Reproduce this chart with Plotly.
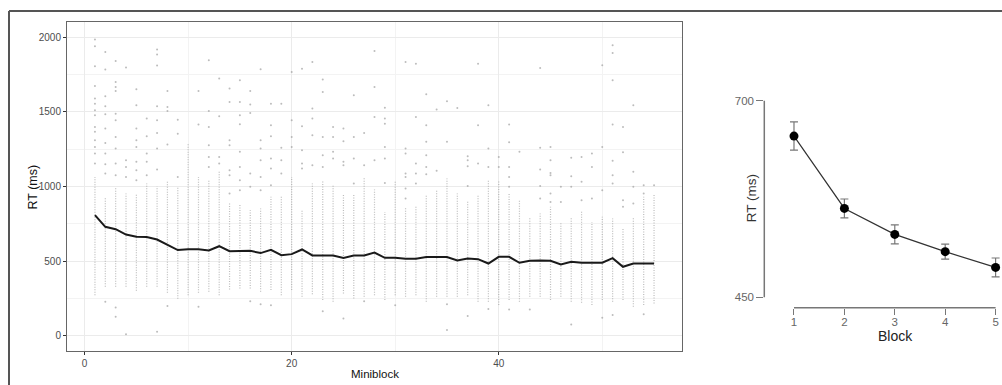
import plotly.graph_objects as go

# ---------------- data ----------------
miniblock = list(range(1, 56))
mean_rt = [808, 730, 714, 678, 663, 661, 645, 607, 574, 580, 580, 571, 600, 567, 569,
           569, 554, 576, 540, 547, 578, 538, 538, 538, 522, 538, 538, 557, 522, 522,
           516, 516, 527, 527, 527, 504, 518, 513, 484, 529, 529, 489, 502, 504, 502,
           478, 496, 489, 489, 489, 520, 462, 484, 484, 484]

# dense band of trial RTs per miniblock (low / high)
band_low = [272, 328, 328, 328, 301, 328, 328, 288, 248, 272, 288, 295, 272, 310, 317,
            317, 295, 306, 272, 306, 261, 279, 239, 228, 284, 250, 261, 272, 239, 272,
            261, 272, 228, 261, 261, 261, 272, 228, 228, 206, 239, 228, 261, 261, 239,
            261, 228, 221, 206, 239, 228, 239, 194, 206, 217]
band_high = [1064, 930, 998, 953, 953, 1020, 1000, 1042, 997, 1288, 1064, 1042, 1100, 897, 886,
             841, 852, 931, 931, 1064, 841, 1020, 1042, 1009, 953, 953, 1064, 980, 830, 1042,
             864, 875, 942, 975, 1053, 953, 908, 942, 1042, 1042, 953, 908, 797, 819, 864,
             763, 797, 841, 763, 797, 786, 719, 797, 931, 953]

# sparse single trials outside the band
outliers = {
    1: [1984, 1939, 1805, 1673, 1589, 1555, 1511, 1477, 1399, 1366, 1310, 1265, 1221, 1154],
    2: [1901, 1783, 1604, 1537, 1484, 1388, 1292, 1221, 1149, 1087, 228],
    3: [1841, 1700, 1667, 1640, 1488, 1444, 1332, 1254, 1154, 1076, 190, 127],
    4: [1798, 1176, 1131, 1064, 11],
    5: [1651, 1544, 1388, 1310, 1265, 1165, 1109, 1042],
    6: [1455, 1337, 1221, 1165, 1076],
    7: [1917, 1885, 1810, 1537, 1444, 1359, 1254, 1114, 27],
    8: [1640, 1533, 1506, 1281, 199],
    9: [1448, 1354, 1064],
    11: [1640, 1415, 194],
    12: [1845, 1506, 1399, 1276, 1198, 1131],
    13: [1723, 1470, 1198, 1154],
    14: [1656, 1566, 1310, 1276, 1109, 1076, 953],
    15: [1711, 1566, 1477, 1417, 1232, 1131, 1042, 975],
    16: [1640, 1549, 1493, 1087, 998, 232],
    17: [1785, 1310, 1254, 1176, 1064, 975, 212],
    18: [1555, 1410, 1337, 1187, 1120, 1009, 205],
    19: [1555, 1259, 1176, 1087],
    20: [1767, 1444, 1332, 1265],
    21: [1789, 1404, 1243, 1154, 1120],
    22: [1834, 1522, 1455, 1343, 1142],
    23: [1716, 1633, 1332, 1209, 1131, 165],
    24: [1399, 1332, 1232, 1187],
    25: [1388, 1303, 1165, 1142, 116],
    26: [1611, 1332, 1187, 1020],
    27: [1359, 1142, 232],
    28: [1908, 1667, 1466, 1176],
    29: [1528, 1455, 1421, 1265, 1187, 1024],
    30: [205],
    31: [1834, 1254, 1221, 1087, 1064, 986, 920],
    32: [1823, 1466, 1154, 1087, 1020],
    33: [1618, 1410, 1299, 1209, 1131, 1082],
    34: [1515, 1105],
    35: [1571, 1299, 212, 38],
    36: [1526],
    37: [1203, 1176, 1136, 1004, 132],
    38: [1823, 1410, 1154],
    39: [1544, 1254, 1131, 179],
    40: [1198, 1131],
    41: [1415, 1296, 1131, 1064, 998, 176],
    42: [1232],
    43: [176],
    44: [1794, 1259, 1114, 1004, 920],
    45: [1265, 1176, 1091, 1076, 953, 897],
    46: [998, 897],
    47: [1192, 1069, 998, 76],
    48: [1198, 1031, 908],
    49: [1221, 1131, 920],
    50: [1812, 1265, 975, 121],
    51: [1946, 1894, 1711, 1415, 1172, 1076, 1020, 139],
    52: [1399, 1230, 908, 864],
    53: [1544, 1098, 998, 886],
    54: [1009, 953, 145],
    55: [1009],
}

block = [1, 2, 3, 4, 5]
block_rt = [655, 563, 530, 508, 488]
block_se = [18, 12, 12, 9.5, 12]

W, H = 1002, 385
FONT = "Arial, Liberation Sans, sans-serif"


def px_x(p):
    return p / W


def px_y(p):
    return 1 - p / H


fig = go.Figure()

# dense bands as faint dotted columns
bx, by = [], []
for m, lo, hi in zip(miniblock, band_low, band_high):
    bx += [m, m, None]
    by += [lo, hi, None]
fig.add_trace(go.Scatter(x=bx, y=by, mode="lines", xaxis="x", yaxis="y",
                         line=dict(color="rgba(160,160,160,0.7)", width=1.2, dash="1px,1.5px"),
                         hoverinfo="skip", showlegend=False))

ox, oy = [], []
for m, vals in outliers.items():
    for v in vals:
        ox.append(m)
        oy.append(v)
fig.add_trace(go.Scatter(x=ox, y=oy, mode="markers", xaxis="x", yaxis="y",
                         marker=dict(color="rgba(165,165,165,0.75)", size=2),
                         showlegend=False))

fig.add_trace(go.Scatter(x=miniblock, y=mean_rt, mode="lines", xaxis="x", yaxis="y",
                         line=dict(color="#1a1a1a", width=2), showlegend=False))

# right panel
fig.add_trace(go.Scatter(x=block, y=block_rt, mode="lines+markers", xaxis="x2", yaxis="y2",
                         line=dict(color="#333333", width=1.2),
                         marker=dict(color="black", size=9),
                         error_y=dict(type="data", array=block_se, visible=True,
                                      color="#777777", thickness=1.2, width=4),
                         showlegend=False, cliponaxis=False))

tickfont_l = dict(family=FONT, size=10, color="#4d4d4d")
tickfont_r = dict(family=FONT, size=11.5, color="#666666")

fig.update_layout(
    width=W, height=H,
    margin=dict(l=0, r=0, t=0, b=0),
    paper_bgcolor="white", plot_bgcolor="white",
    font=dict(family=FONT),
    xaxis=dict(domain=[px_x(67), px_x(682)], range=[-1.7, 57.7],
               tickvals=[0, 20, 40], ticks="outside", ticklen=3, tickcolor="#333333",
               tickfont=tickfont_l, showgrid=True, gridcolor="#ebebeb", gridwidth=1,
               minor=dict(tickvals=[10, 30, 50], showgrid=True, gridcolor="#f3f3f3",
                          gridwidth=1, ticks=""),
               showline=True, linecolor="#666666", linewidth=1, mirror=True,
               zeroline=False, anchor="y"),
    yaxis=dict(domain=[px_y(351), px_y(22)], range=[-102, 2102],
               tickvals=[0, 500, 1000, 1500, 2000], ticks="outside", ticklen=3,
               tickcolor="#333333", tickfont=tickfont_l, showgrid=True,
               gridcolor="#ebebeb", gridwidth=1,
               minor=dict(tickvals=[250, 750, 1250, 1750], showgrid=True,
                          gridcolor="#f3f3f3", gridwidth=1, ticks=""),
               showline=True, linecolor="#666666", linewidth=1, mirror=True,
               zeroline=False, anchor="x"),
    xaxis2=dict(domain=[px_x(764.3), 1.0], range=[0.411, 5.127],
                tickvals=block, ticks="outside", ticklen=6, tickcolor="#777777",
                tickwidth=1.2, tickfont=tickfont_r, showgrid=False, showline=False,
                ticklabelstandoff=-3,
                zeroline=False, anchor="y2"),
    yaxis2=dict(domain=[px_y(307.7), px_y(60)], range=[436.8, 751.7],
                tickvals=[450, 700], ticks="outside", ticklen=7, tickcolor="#777777",
                tickwidth=1.2, tickfont=tickfont_r, showgrid=False, showline=False,
                zeroline=False, anchor="x2"),
)

shapes = [
    # right-panel axis lines spanning only the tick range
    dict(type="line", xref="x2 domain", x0=0, x1=0, yref="y2", y0=450, y1=700,
         line=dict(color="#777777", width=1.5)),
    dict(type="line", xref="x2", x0=1, x1=5, yref="y2 domain", y0=0, y1=0,
         line=dict(color="#777777", width=1.5)),
    # outer frame (top and left edges)
    dict(type="line", xref="paper", yref="paper", x0=px_x(9), x1=1.0,
         y0=px_y(11), y1=px_y(11), line=dict(color="#555555", width=2)),
    dict(type="line", xref="paper", yref="paper", x0=px_x(9), x1=px_x(9),
         y0=px_y(11), y1=0, line=dict(color="#555555", width=2)),
]
fig.update_layout(shapes=shapes)

annotations = [
    dict(text="RT (ms)", xref="paper", yref="paper", x=px_x(32), y=px_y(186.5),
         textangle=-90, showarrow=False, font=dict(family=FONT, size=12.5, color="#111111"),
         xanchor="center", yanchor="middle"),
    dict(text="Miniblock", xref="paper", yref="paper", x=px_x(374.5), y=px_y(374),
         showarrow=False, font=dict(family=FONT, size=11.5, color="#111111"),
         xanchor="center", yanchor="middle"),
    dict(text="RT (ms)", xref="paper", yref="paper", x=px_x(751.7), y=px_y(198.5),
         textangle=-90, showarrow=False, font=dict(family=FONT, size=13.5, color="#333333"),
         xanchor="center", yanchor="middle"),
    dict(text="Block", xref="paper", yref="paper", x=px_x(895), y=px_y(336),
         showarrow=False, font=dict(family=FONT, size=14, color="#222222"),
         xanchor="center", yanchor="middle"),
]
fig.update_layout(annotations=annotations)

fig.write_html("out.html", config={"displayModeBar": False},
               post_script="document.body.style.margin='0';document.body.style.overflow='hidden';")
